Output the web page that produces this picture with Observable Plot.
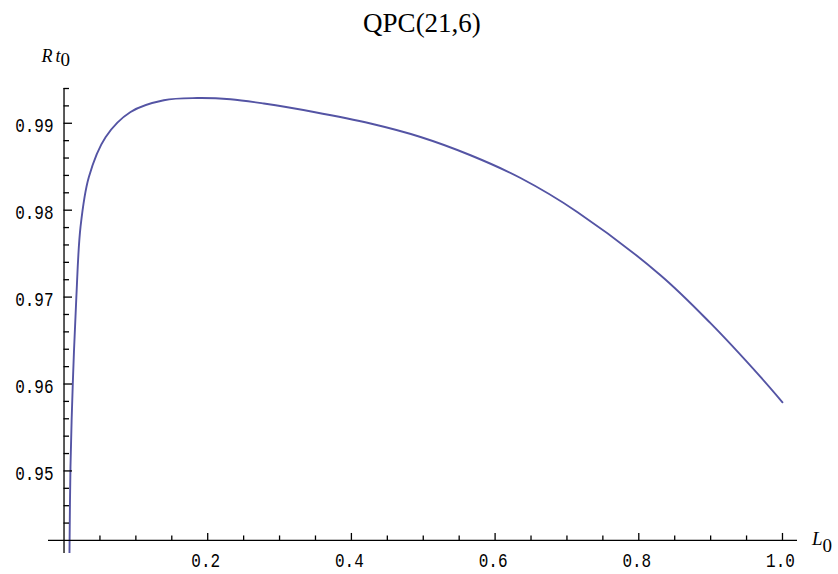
<!DOCTYPE html>
<html><head><meta charset="utf-8">
<script src="https://cdn.jsdelivr.net/npm/d3@7"></script>
<script src="https://cdn.jsdelivr.net/npm/@observablehq/plot@0.6"></script>
<style>
body{margin:0;background:#fff;}
#title{height:43px;box-sizing:border-box;padding-top:3px;padding-left:6px;width:838px;line-height:40px;font-family:"Liberation Serif",serif;font-size:27px;text-align:center;color:#000;}
</style></head><body>
<div id="title">QPC(21,6)</div>
<div id="chart"></div>
<script>
// curve values
const L0  = [0.0076, 0.0090, 0.0122, 0.0170, 0.0230, 0.0345, 0.0578, 0.0926, 0.1389, 0.1854, 0.2317, 0.2781, 0.3477, 0.4266, 0.4962, 0.5658, 0.6354, 0.7143, 0.8302, 0.8998, 0.9694, 1.0000];
const Rt0 = [0.9406, 0.9505, 0.9600, 0.9697, 0.9781, 0.9838, 0.9884, 0.9913, 0.99265, 0.9929, 0.99276, 0.99227, 0.99130, 0.98997, 0.98842, 0.98632, 0.98370, 0.97980, 0.97252, 0.96700, 0.96082, 0.9579];

const xMajor = [0.2, 0.4, 0.6, 0.8, 1.0];
const xLabels = ["0.2", "0.4", "0.6", "0.8", "1.0"];
const xMinor = [0.05, 0.1, 0.15, 0.25, 0.3, 0.35, 0.45, 0.5, 0.55, 0.65, 0.7, 0.75, 0.85, 0.9, 0.95];
const yMajor = [0.95, 0.96, 0.97, 0.98, 0.99];
const yLabels = ["0.95", "0.96", "0.97", "0.98", "0.99"];
const yMinor = [0.944, 0.946, 0.948, 0.952, 0.954, 0.956, 0.958, 0.962, 0.964, 0.966, 0.968, 0.972, 0.974, 0.976, 0.978, 0.982, 0.984, 0.986, 0.988, 0.992, 0.994];
const xAxisAt = 0.942;   // y value where the horizontal axis crosses
const yAxisAt = 0;       // x value where the vertical axis crosses
const xDomain = [-0.0216, 1.0209];
const yDomain = [0.9405, 0.9940];

const W = 838, H = 531, mT = 45, mB = 21, mL = 48, mR = 41;
// tick lengths (pixels) converted to data units
const pxPerX = (W - mL - mR) / (xDomain[1] - xDomain[0]);
const pxPerY = (H - mT - mB) / (yDomain[1] - yDomain[0]);
const xMajLen = 7 / pxPerY, xMinLen = 4.5 / pxPerY;
const yMajLen = 8.5 / pxPerX, yMinLen = 5.5 / pxPerX;

const data = L0.map((x, i) => ({x, y: Rt0[i]}));
const tickFont = "Liberation Mono";

const plot = Plot.plot({
  width: W, height: H,
  marginTop: mT, marginBottom: mB, marginLeft: mL, marginRight: mR,
  x: {domain: xDomain, axis: null},
  y: {domain: yDomain, axis: null},
  style: {background: "white", overflow: "visible"},
  marks: [
    Plot.line(data, {x: "x", y: "y", stroke: "#5454a4", strokeWidth: 1.9, curve: "catmull-rom", clip: true}),
    Plot.ruleY([xAxisAt], {stroke: "#000", strokeWidth: 1.3}),
    Plot.ruleX([yAxisAt], {stroke: "#000", strokeWidth: 1.3}),
    Plot.ruleX(xMajor, {x: d => d, y1: () => xAxisAt, y2: () => xAxisAt + xMajLen, stroke: "#000", strokeWidth: 1.3}),
    Plot.ruleX(xMinor, {x: d => d, y1: () => xAxisAt, y2: () => xAxisAt + xMinLen, stroke: "#000", strokeWidth: 1.3}),
    Plot.ruleY(yMajor, {y: d => d, x1: () => yAxisAt, x2: () => yAxisAt + yMajLen, stroke: "#000", strokeWidth: 1.3}),
    Plot.ruleY(yMinor, {y: d => d, x1: () => yAxisAt, x2: () => yAxisAt + yMinLen, stroke: "#000", strokeWidth: 1.3}),
    Plot.text(yLabels, {x: () => yAxisAt, y: (d, i) => yMajor[i], text: d => d, textAnchor: "end", dx: -10.5, dy: 2, fontFamily: tickFont, fontSize: 21, fill: "#000"}),
    Plot.text(xLabels, {x: (d, i) => xMajor[i], y: () => xAxisAt, text: d => d, textAnchor: "middle", dx: -2, dy: 20, fontFamily: tickFont, fontSize: 21, fill: "#000"})
  ]
});

const svg = d3.select(plot);
// condense tick labels to the reference widths
svg.selectAll("g[aria-label='text'] text").each(function() {
  const t = this.textContent;
  d3.select(this).attr("textLength", t.length * 9.6).attr("lengthAdjust", "spacingAndGlyphs");
});

const sx = plot.scale("x"), sy = plot.scale("y");
const ax0 = sx.apply(yAxisAt), ayTop = sy.apply(yDomain[1]);
const axRight = sx.apply(xDomain[1]), axY = sy.apply(xAxisAt);

// y axis label
const yl = svg.append("text")
  .attr("x", ax0 - 22).attr("y", ayTop - 26).attr("text-anchor", "start")
  .attr("font-family", "Liberation Serif").attr("font-size", 18).attr("fill", "#000");
yl.append("tspan").attr("font-style", "italic").text("R");
yl.append("tspan").attr("font-style", "italic").attr("dx", 3).text("t");
yl.append("tspan").attr("dy", 4).attr("font-size", 19).text("0");

// x axis label
const xl = svg.append("text")
  .attr("x", axRight + 15).attr("y", axY + 5).attr("text-anchor", "start")
  .attr("font-family", "Liberation Serif").attr("font-size", 19).attr("fill", "#000");
xl.append("tspan").attr("font-style", "italic").text("L");
xl.append("tspan").attr("dy", 7).text("0");

document.getElementById("chart").appendChild(plot);
</script>
</body></html>
